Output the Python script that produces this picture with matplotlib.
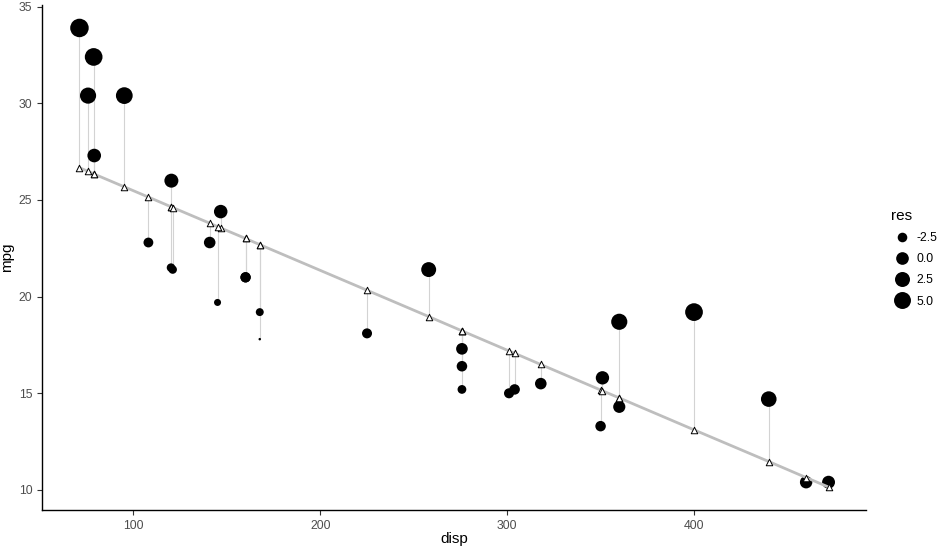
import numpy as np
import matplotlib
matplotlib.use("Agg")
import matplotlib.pyplot as plt
from matplotlib.lines import Line2D

plt.rcParams['font.family'] = ['Liberation Sans', 'DejaVu Sans']

# mtcars: displacement and mpg
disp = [160, 160, 108, 258, 360, 225, 360, 146.7, 140.8, 167.6, 167.6, 275.8,
        275.8, 275.8, 472, 460, 440, 78.7, 75.7, 71.1, 120.1, 318, 304, 350,
        400, 79, 120.3, 95.1, 351, 145, 301, 121]
mpg = [21.0, 21.0, 22.8, 21.4, 18.7, 18.1, 14.3, 24.4, 22.8, 19.2, 17.8, 16.4,
       17.3, 15.2, 10.4, 10.4, 14.7, 32.4, 30.4, 33.9, 21.5, 15.5, 15.2, 13.3,
       19.2, 27.3, 26.0, 30.4, 15.8, 19.7, 15.0, 21.4]
# fitted values of lm(mpg ~ disp)
pred = [23.01, 23.01, 25.15, 18.97, 14.76, 20.33, 14.76, 23.55, 23.80, 22.69,
        22.69, 18.23, 18.23, 18.23, 10.15, 10.64, 11.47, 26.36, 26.48, 26.67,
        24.65, 16.49, 17.07, 15.17, 13.11, 26.34, 24.64, 25.68, 15.13, 23.62,
        17.19, 24.61]
legend_breaks = [-2.5, 0.0, 2.5, 5.0]

disp = np.array(disp)
mpg = np.array(mpg)
pred = np.array(pred)
res = mpg - pred

rmin, rmax = res.min(), res.max()


def size_of(r):
    # ggplot-like area scale -> diameter in px, converted to scatter area
    d_px = 2.5 + 16 * np.sqrt((np.asarray(r) - rmin) / (rmax - rmin))
    return (d_px * 0.72) ** 2


fig = plt.figure(figsize=(9.46, 5.47), dpi=100)
ax = fig.add_axes([42 / 946, 37 / 547, 824 / 946, 505 / 547])

ax.vlines(disp, pred, mpg, colors="#d3d3d3", linewidth=0.8, zorder=1)
ax.scatter(disp, mpg, s=size_of(res), c="black", linewidths=0, zorder=2)
order = np.argsort(disp)
ax.plot(disp[order], pred[order], color="#bebebe", linewidth=2.0, zorder=3)
ax.scatter(disp, pred, marker="^", s=22, facecolors="white",
           edgecolors="black", linewidths=0.7, zorder=4)

xr = disp.max() - disp.min()
ax.set_xlim(disp.min() - 0.05 * xr, disp.max() + 0.05 * xr)
yr = mpg.max() - min(mpg.min(), pred.min())
ymin = min(mpg.min(), pred.min())
ax.set_ylim(ymin - 0.05 * yr, mpg.max() + 0.05 * yr)

ax.set_xticks([100, 200, 300, 400])
ax.set_yticks([10, 15, 20, 25, 30, 35])
for s in ["top", "right"]:
    ax.spines[s].set_visible(False)
for s in ["left", "bottom"]:
    ax.spines[s].set_color("black")
    ax.spines[s].set_linewidth(1.0)
ax.tick_params(colors="#4d4d4d", labelsize=8.8, length=3.5, width=0.8)
ax.tick_params(axis="both", color="#333333")
ax.set_xlabel("disp", fontsize=11, labelpad=0)
ax.set_ylabel("mpg", fontsize=11, labelpad=3)

handles = [Line2D([], [], marker="o", linestyle="", color="black",
                  markersize=np.sqrt(size_of(b)), markeredgewidth=0)
           for b in legend_breaks]
labels = ["%.1f" % b for b in legend_breaks]
leg = fig.legend(handles, labels, title="res", loc="upper left",
                 bbox_to_anchor=(880 / 946, 1 - 198 / 547), frameon=False,
                 fontsize=8.8, title_fontsize=11, handletextpad=0.3,
                 labelspacing=0.75, alignment="left", handlelength=1.8)

fig.savefig("out.png", dpi=100)
